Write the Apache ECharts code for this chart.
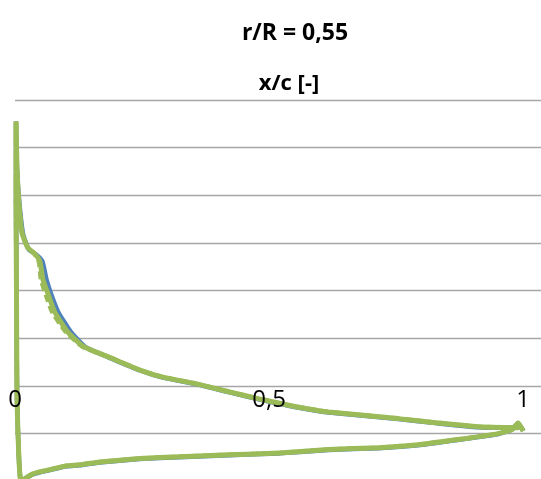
<!DOCTYPE html>
<html><head><meta charset="utf-8">
<script src="https://cdn.jsdelivr.net/npm/echarts@6/dist/echarts.min.js"></script>
<style>html,body{margin:0;padding:0;background:#fff}#c{width:541px;height:479px}</style>
</head><body><div id="c"></div>
<script>
// x/c positions along the closed curve: upper surface (TE -> LE), leading-edge drop, lower surface (LE -> TE)
const xGreen = [0.992,0.910,0.832,0.754,0.617,0.553,0.486,0.422,0.357,0.291,0.246,0.1875,0.135,0.1035,0.078,0.066,0.055,0.049,0.039,0.025,0.014,0.008,0.004,0.002,
  0.002,0.003,0.004,0.007,0.012,
  0.035,0.069,0.102,0.127,0.167,0.245,0.324,0.422,0.52,0.617,0.715,0.793,0.871,0.949,0.978,0.990,1.0];
const yGreen = [-0.88,-0.86,-0.78,-0.69,-0.55,-0.44,-0.29,-0.13,0.04,0.18,0.33,0.59,0.82,1.13,1.55,1.90,2.23,2.61,2.77,2.90,3.20,3.80,4.54,5.55,
  3.91,1.81,-0.29,-1.34,-2.0,
  -1.85,-1.76,-1.68,-1.66,-1.60,-1.53,-1.49,-1.45,-1.41,-1.34,-1.30,-1.24,-1.13,-1.01,-0.92,-0.78,-0.95];
const xBlue = [0.992,0.910,0.832,0.754,0.617,0.553,0.486,0.422,0.357,0.291,0.246,0.1875,0.139,0.110,0.085,0.072,0.062,0.054,0.041,0.027,0.016,0.009,0.004,0.002,
  0.002,0.003,0.004,0.007,0.012,
  0.035,0.069,0.102,0.127,0.167,0.245,0.324,0.422,0.52,0.617,0.715,0.793,0.871,0.949,0.978,0.990,1.0];
const yBlue = [-0.88,-0.87,-0.79,-0.70,-0.56,-0.45,-0.30,-0.14,0.03,0.17,0.32,0.58,0.81,1.13,1.55,1.90,2.23,2.61,2.76,2.86,3.18,3.80,4.54,5.55,
  3.91,1.81,-0.29,-1.34,-2.0,
  -1.86,-1.77,-1.69,-1.67,-1.61,-1.54,-1.50,-1.46,-1.42,-1.35,-1.31,-1.25,-1.14,-1.02,-0.92,-0.78,-0.95];
const xDash = [0.992,0.910,0.832,0.754,0.617,0.553,0.486,0.422,0.357,0.291,0.246,0.1875,0.133,0.100,0.073,0.061,0.051,0.047,0.038,0.025,0.014,0.008,0.004,0.002,
  0.002,0.003,0.004,0.007,0.012,
  0.035,0.069,0.102,0.127,0.167,0.245,0.324,0.422,0.52,0.617,0.715,0.793,0.871,0.949,0.978,0.990,1.0];
const yDash = yGreen;
const xTicks = [0, 0.5, 1];

const pairs = (xs, ys) => xs.map((x, i) => [x, ys[i]]);
const chart = echarts.init(document.getElementById('c'), null, {renderer: 'canvas'});
chart.setOption({
  animation: false,
  title: [
    {text: 'r/R = 0,55', left: 290, top: 17, textAlign: 'center',
     textStyle: {fontFamily: 'Open Sans', fontWeight: 'bold', fontSize: 23, color: '#000'}},
    {text: 'x/c [-]', left: 284, top: 68, textAlign: 'center',
     textStyle: {fontFamily: 'Open Sans', fontWeight: 'bold', fontSize: 22, color: '#000'}}
  ],
  grid: {left: 15, right: 0, top: 100, height: 381, outerBoundsMode: 'none', containLabel: false},
  xAxis: {
    type: 'value', min: 0, max: 1.035, interval: 0.5, position: 'bottom', offset: -95, z: 10,
    axisLine: {show: false, onZero: false},
    axisTick: {show: false}, splitLine: {show: false},
    axisLabel: {
      margin: 2, fontFamily: 'Open Sans', fontSize: 24, color: '#000', showMaxLabel: false,
      formatter: v => xTicks.some(t => Math.abs(t - v) < 1e-9) ? String(v).replace('.', ',') : ''
    }
  },
  yAxis: {
    type: 'value', min: -2, max: 6, interval: 1,
    axisLine: {show: false}, axisTick: {show: false}, axisLabel: {show: false},
    splitLine: {lineStyle: {color: '#a6a6a6', width: 1.3}}
  },
  series: [
    {type: 'line', data: pairs(xBlue, yBlue), showSymbol: false, symbol: 'none', smooth: 0.15,
     lineStyle: {color: '#4F81BD', width: 4.5}, z: 1},
    {type: 'line', data: pairs(xDash, yDash), showSymbol: false, symbol: 'none', smooth: 0.15,
     lineStyle: {color: '#9BBB59', width: 4.5, type: [8, 4]}, z: 2},
    {type: 'line', data: pairs(xGreen, yGreen), showSymbol: false, symbol: 'none', smooth: 0.15,
     lineStyle: {color: '#9BBB59', width: 5}, z: 3}
  ]
});
</script></body></html>
